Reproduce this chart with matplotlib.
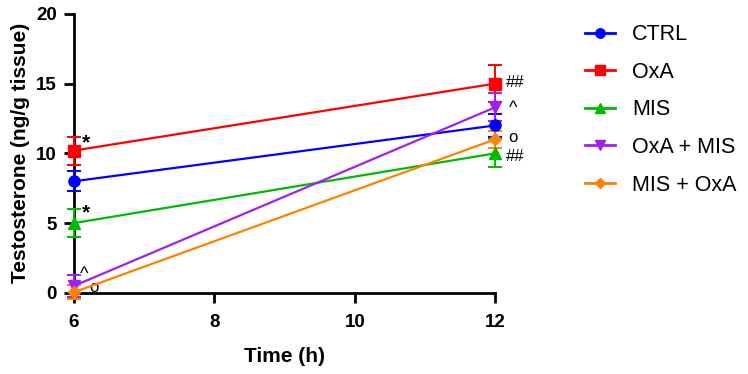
import matplotlib
matplotlib.use("Agg")
import matplotlib.pyplot as plt
from matplotlib.lines import Line2D

plt.rcParams['font.family'] = ['Liberation Sans', 'DejaVu Sans']

time = [6, 12]
groups = ["CTRL", "OxA", "MIS", "OxA + MIS", "MIS + OxA"]
ctrl = [8.0, 12.0]
oxa = [10.2, 15.0]
mis = [5.0, 10.0]
oxa_mis = [0.5, 13.3]
mis_oxa = [0.05, 11.0]
ctrl_err = [0.7, 0.8]
oxa_err = [1.0, 1.3]
mis_err = [1.0, 1.0]
oxa_mis_err = [0.8, 1.0]
mis_oxa_err = [0.5, 0.6]
xticks = [6, 8, 10, 12]
yticks = [0, 5, 10, 15, 20]
notes_6 = {"OxA": "*", "MIS": "*", "OxA + MIS": "^", "MIS + OxA": "o"}
notes_12 = {"OxA": "##", "MIS": "##", "OxA + MIS": "^", "MIS + OxA": "o"}

series = [ctrl, oxa, mis, oxa_mis, mis_oxa]
errs = [ctrl_err, oxa_err, mis_err, oxa_mis_err, mis_oxa_err]
colors = ["#0000FF", "#FF0000", "#00BB00", "#A020F0", "#FF8000"]
markers = ["o", "s", "^", "v", "D"]
msizes = [8, 8, 8, 8, 6]

fig = plt.figure(figsize=(7.48, 3.74), dpi=100)
ax = fig.add_axes([0.099, 0.217, 0.563, 0.746])

handles = []
for name, vals, err, c, m, ms in zip(groups, series, errs, colors, markers, msizes):
    ax.errorbar(time, vals, yerr=err, color=c, marker=m, markersize=ms,
                linewidth=1.6, elinewidth=1.4, capsize=5, capthick=1.4,
                clip_on=False, zorder=3)
    handles.append(Line2D([], [], color=c, marker=m, markersize=ms * 0.85,
                          linewidth=2, label=name))

off6 = {"OxA": (0.17, 0.55), "MIS": (0.17, 0.7), "OxA + MIS": (0.15, 0.8), "MIS + OxA": (0.29, 0.35)}
off12 = {"OxA": (0.29, 0.05), "MIS": (0.29, -0.25), "OxA + MIS": (0.26, -0.1), "MIS + OxA": (0.25, 0.1)}
sizes = {"*": 15, "^": 13, "o": 12, "##": 12}
for name, vals in zip(groups, series):
    if name in notes_6:
        dx, dy = off6[name]
        s = notes_6[name]
        ax.text(time[0] + dx, vals[0] + dy, s, fontsize=sizes[s], va='center', ha='center',
                fontweight='bold' if s == '*' else 'normal', clip_on=False)
    if name in notes_12:
        dx, dy = off12[name]
        s = notes_12[name]
        ax.text(time[1] + dx, vals[1] + dy, s, fontsize=sizes[s], va='center', ha='center',
                clip_on=False)

ax.set_xlim(6, 12)
ax.set_ylim(0, 20)
ax.set_xticks(xticks)
ax.set_yticks(yticks)
for s in ['top', 'right']:
    ax.spines[s].set_visible(False)
for s in ['left', 'bottom']:
    ax.spines[s].set_linewidth(2)
ax.tick_params(width=2, length=7.5, labelsize=13.5)
ax.tick_params(axis='x', pad=8)
ax.tick_params(axis='y', pad=5)
for lab in ax.get_xticklabels() + ax.get_yticklabels():
    lab.set_fontweight('bold')
ax.set_xlabel("Time (h)", fontsize=15, fontweight='bold', labelpad=11)
ax.set_ylabel("Testosterone (ng/g tissue)", fontsize=15, fontweight='bold', labelpad=4)

ax.legend(handles=handles, loc='upper left', bbox_to_anchor=(1.214, 0.9626), frameon=False,
          fontsize=15.5, labelspacing=0.77, handlelength=1.39, handletextpad=0.78, borderpad=0,
          borderaxespad=0)

fig.savefig("out.png", dpi=100)
